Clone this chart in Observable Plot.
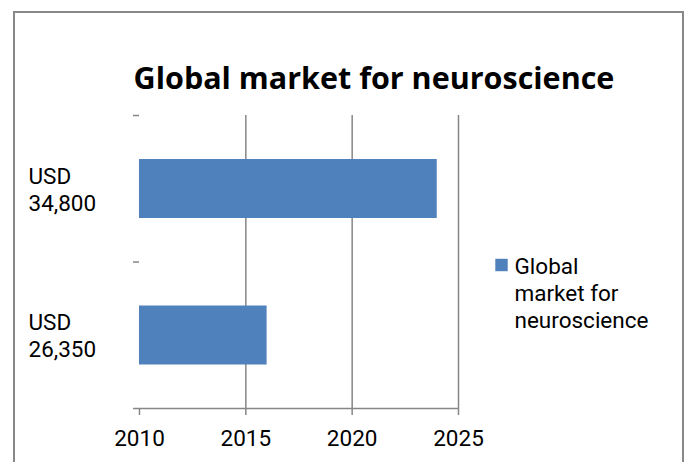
<!DOCTYPE html>
<html><head><meta charset="utf-8">
<script src="https://cdn.jsdelivr.net/npm/d3@7"></script>
<script src="https://cdn.jsdelivr.net/npm/@observablehq/plot@0.6"></script>
<style>
html,body{margin:0;padding:0;background:#fff;}
#wrap{position:relative;width:688px;height:462px;overflow:hidden;font-family:Roboto, sans-serif;}
#border{position:absolute;left:13px;top:11px;width:671px;height:470px;border:2px solid #888;border-bottom:none;box-sizing:border-box;}
#chart{position:absolute;left:0;top:0;}
</style></head><body>
<div id="wrap"><div id="border"></div><div id="chart"></div></div>
<script>
const title = "Global market for neuroscience";
const seriesName = "Global market for neuroscience";
const categories = ["USD 26,350", "USD 34,800"]; // bottom to top
const startYears = [2010, 2010];
const endYears = [2016, 2024];
const xTicks = [2010, 2015, 2020, 2025];
const gridYears = [2015, 2020, 2025];

const data = categories.map((c, i) => ({category: c, index: i, start: startYears[i], end: endYears[i]}));
const gray = "#868686";
const barColor = "#4F81BD";
const legendText = seriesName.replace(" market", "\nmarket").replace(" neuro", "\nneuro");

const chart = Plot.plot({
  width: 688,
  height: 462,
  marginLeft: 139,
  marginRight: 230,
  marginTop: 115,
  marginBottom: 54,
  style: {fontFamily: "Roboto, sans-serif", background: "transparent", color: "black"},
  x: {domain: [xTicks[0], xTicks[xTicks.length - 1]]},
  y: {domain: [0, categories.length]},
  marks: [
    Plot.ruleX(gridYears, {stroke: gray, strokeWidth: 1.5, strokeOpacity: 1}),
    Plot.rect(data, {x1: "start", x2: "end", y1: "index", y2: d => d.index + 1, insetTop: 44, insetBottom: 43.5, fill: barColor}),
    Plot.ruleY([0], {stroke: gray, strokeWidth: 1.5}),
    Plot.axisX({ticks: xTicks, tickSize: 7, tickPadding: 15, tickFormat: d => String(d), fontSize: 22.5, stroke: gray, strokeWidth: 1.5, strokeOpacity: 1, fill: "black", label: null}),
    Plot.axisY({ticks: d3.range(categories.length + 1), tickSize: 6, tickFormat: () => "", stroke: gray, strokeWidth: 1.5, strokeOpacity: 1, label: null}),
    Plot.axisY({ticks: categories.map((c, i) => i + 0.5), tickSize: 0, tickPadding: 0, tickFormat: v => categories[Math.floor(v)].replace(" ", "\n"), textAnchor: "start", dx: -111, fontSize: 22.5, lineHeight: 1.2, fill: "black", label: null}),
    Plot.text([title], {text: d => d, frameAnchor: "top", dx: 75, dy: -48, fontSize: 30.5, fontWeight: "bold", fill: "black", fontFamily: "'Open Sans', sans-serif"}),
    Plot.dot([seriesName], {frameAnchor: "right", dx: 43, dy: 3, symbol: "square", r: 7, fill: barColor, stroke: null}),
    Plot.text([legendText], {text: d => d, frameAnchor: "right", textAnchor: "start", dx: 56, dy: 30, fontSize: 22.5, lineHeight: 1.2, fill: "black"})
  ]
});
document.getElementById("chart").appendChild(chart);
</script>
</body></html>
